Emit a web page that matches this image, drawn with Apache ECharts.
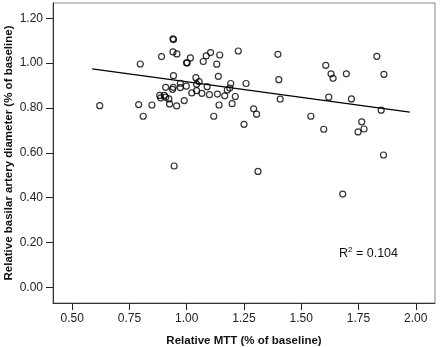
<!DOCTYPE html>
<html>
<head>
<meta charset="utf-8">
<script src="https://cdn.jsdelivr.net/npm/echarts@6/dist/echarts.min.js"></script>
<style>
    html, body {margin: 0; padding: 0; background: #fff;}
    #scatter_chart {width: 440px; height: 347px;}
</style>
</head>
<body>
<div id="scatter_chart"></div>
<script>
// relative MTT (x) / relative basilar artery diameter (y)
var mttValues = [0.620, 0.797, 0.790, 0.810, 0.848, 0.890, 0.882, 0.886, 0.902, 0.908,
    0.908, 0.922, 0.925, 0.940, 0.942, 0.940, 0.942, 0.941, 0.938, 0.945,
    0.957, 0.956, 0.972, 0.972, 0.989, 0.998, 0.999, 1.002, 1.016, 1.022,
    1.040, 1.043, 1.043, 1.054, 1.066, 1.072, 1.085, 1.089, 1.104, 1.099,
    1.118, 1.131, 1.134, 1.138, 1.141, 1.144, 1.166, 1.177, 1.188, 1.192,
    1.198, 1.212, 1.225, 1.250, 1.259, 1.292, 1.305, 1.311, 1.398, 1.402,
    1.408, 1.542, 1.598, 1.607, 1.620, 1.630, 1.639, 1.681, 1.697, 1.719,
    1.748, 1.764, 1.774, 1.830, 1.849, 1.859, 1.861];
var diameterValues = [0.810, 0.996, 0.815, 0.763, 0.813, 1.029, 0.856, 0.845, 0.856, 0.892,
    0.848, 0.840, 0.818, 1.108, 1.105, 1.050, 0.944, 0.892, 0.883, 0.541,
    1.041, 0.809, 0.910, 0.891, 0.833, 0.897, 1.001, 1.001, 1.023, 0.867,
    0.935, 0.906, 0.877, 0.917, 0.865, 1.007, 1.032, 0.895, 1.047, 0.859,
    0.763, 0.995, 0.862, 0.941, 0.813, 1.036, 0.854, 0.880, 0.889, 0.909,
    0.819, 0.851, 1.054, 0.727, 0.909, 0.796, 0.772, 0.517, 1.039, 0.926,
    0.839, 0.763, 0.705, 0.990, 0.848, 0.952, 0.932, 0.416, 0.952, 0.840,
    0.693, 0.738, 0.706, 1.030, 0.790, 0.590, 0.950];
// fit line ends as drawn in the figure
var fitX = [0.587, 1.974];
var fitY = [0.974, 0.781];
var xTicks = [0.50, 0.75, 1.00, 1.25, 1.50, 1.75, 2.00];
var yTicks = [0.00, 0.20, 0.40, 0.60, 0.80, 1.00, 1.20];
var rSquared = '0.104';

var points = mttValues.map(function (v, i) {
    return [v, diameterValues[i]];
});
var fitLine = fitX.map(function (v, i) {
    return [v, fitY[i]];
});

var myChart = echarts.init(document.getElementById('scatter_chart'));
var font = 'Liberation Sans, Arial, sans-serif';
var option = {
    backgroundColor: '#fff',
    animation: false,
    grid: {left: 53, right: 5, top: 3, bottom: 44, show: true, borderColor: '#888', borderWidth: 1,
        outerBoundsMode: 'none', containLabel: false},
    xAxis: {
        type: 'value', min: 0.416, max: 2.084,
        name: 'Relative MTT (% of baseline)', nameLocation: 'middle', nameGap: 32, nameMoveOverlap: false,
        nameTextStyle: {fontFamily: font, fontSize: 11.5, fontWeight: 'bold', color: '#111'},
        axisLine: {show: true, onZero: false, lineStyle: {color: '#333', width: 1}},
        axisTick: {show: true, length: 7, customValues: xTicks, lineStyle: {color: '#222'}},
        axisLabel: {customValues: xTicks, margin: 10, fontFamily: font, fontSize: 12, color: '#222',
            formatter: function (v) { return v.toFixed(2); }},
        splitLine: {show: false}
    },
    yAxis: {
        type: 'value', min: -0.07, max: 1.268,
        name: 'Relative basilar artery diameter (% of baseline)', nameLocation: 'middle', nameGap: 38,
        nameMoveOverlap: false,
        nameTextStyle: {fontFamily: font, fontSize: 11.5, fontWeight: 'bold', color: '#111'},
        axisLine: {show: true, onZero: false, lineStyle: {color: '#333', width: 1}},
        axisTick: {show: true, length: 7, customValues: yTicks, lineStyle: {color: '#222'}},
        axisLabel: {customValues: yTicks, margin: 10, fontFamily: font, fontSize: 12, color: '#222',
            formatter: function (v) { return v.toFixed(2); }},
        splitLine: {show: false}
    },
    series: [
        {
            type: 'scatter', data: points, symbol: 'circle', symbolSize: 6,
            itemStyle: {color: 'rgba(0,0,0,0)', borderColor: '#000', borderWidth: 1.2}
        },
        {
            type: 'line', data: fitLine, symbol: 'none', silent: true,
            lineStyle: {color: '#000', width: 1.2}
        }
    ],
    graphic: [
        {
            type: 'text', left: 339, top: 246,
            style: {
                text: '{a|R}{s|2}{a| = ' + rSquared + '}',
                rich: {
                    a: {fontFamily: font, fontSize: 12.5, fill: '#111', verticalAlign: 'bottom'},
                    s: {fontFamily: font, fontSize: 8, fill: '#111', verticalAlign: 'top', padding: [0, 0, 6, 0]}
                }
            }
        }
    ]
};
myChart.setOption(option);
</script>
</body>
</html>
